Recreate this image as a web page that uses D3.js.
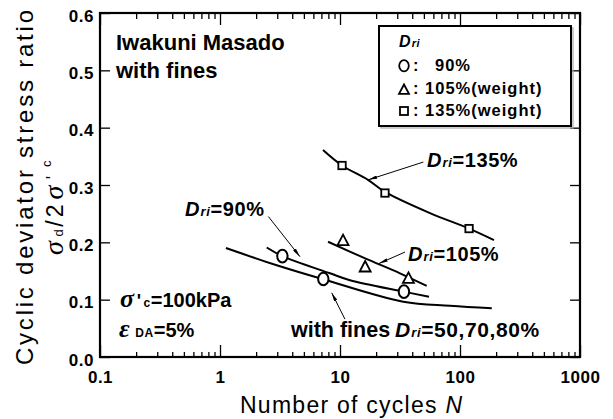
<!DOCTYPE html>
<html>
<head>
<meta charset="utf-8">
<title>Iwakuni Masado cyclic strength</title>
<script src="https://d3js.org/d3.v7.min.js"></script>
<style>
  body { margin: 0; background: #fff; }
  svg { display: block; font-family: "Liberation Sans", Arial, sans-serif; }
  .tick text { font-size: 17px; font-weight: bold; fill: #000; letter-spacing: 0.5px; }
  .tick line { stroke: #000; stroke-width: 1.3; }
</style>
</head>
<body>
<svg id="chart" width="613" height="419"></svg>
<script>
// ---- data: [N, sigma_d / 2 sigma'_c] ----
const xTickValues = [0.1, 1, 10, 100, 1000];
const yTickValues = [0, 0.1, 0.2, 0.3, 0.4, 0.5, 0.6];

const points90  = [[3.31, 0.176], [7.26, 0.136], [34.1, 0.114]];   // circles
const points105 = [[10.6, 0.203], [16.2, 0.157], [37.2, 0.137]];   // triangles
const points135 = [[10.4, 0.334], [23.7, 0.286], [119, 0.224]];    // squares

const curve135   = [[7.22, 0.361], [10.4, 0.334], [17.1, 0.309], [23.7, 0.288], [56.2, 0.251], [119, 0.224], [192, 0.204]];
const curve105   = [[7.95, 0.201], [16.2, 0.172], [31.6, 0.146], [52.8, 0.124]];
const curve90    = [[2.45, 0.191], [3.31, 0.176], [8.25, 0.146], [12.1, 0.134], [34.1, 0.114], [55.2, 0.105]];
const curveFines = [[1.12, 0.190], [2.97, 0.160], [7.26, 0.1355], [33.7, 0.0965], [82.5, 0.0895], [184, 0.085]];

// arrows: [from, to] in data space
const arrows = [
  [[49.5, 0.340], [17.2, 0.309]],
  [[2.53, 0.245], [4.64, 0.175]],
  [[34.8, 0.183], [21.1, 0.163]],
  [[11.0, 0.066], [8.53, 0.112]]
];

// ---- layout ----
const L = 100, R = 580, T = 13, B = 357;
const svg = d3.select('#chart');

const x = d3.scaleLog().domain([0.1, 1000]).range([L, R]);
const y = d3.scaleLinear().domain([0, 0.6]).range([B, T]);
const xMinor = x.ticks().filter(d => !xTickValues.includes(d));

svg.append('defs').append('marker')
  .attr('id', 'arrow')
  .attr('viewBox', '0 0 10 4')
  .attr('refX', 10).attr('refY', 2)
  .attr('markerWidth', 9).attr('markerHeight', 3.6)
  .attr('markerUnits', 'userSpaceOnUse')
  .attr('orient', 'auto')
  .append('path').attr('d', 'M0,0L10,2L0,4Z').attr('fill', '#000');

// axes (ticks point inward)
function noDomain(g) { g.select('.domain').remove(); }

svg.append('g').attr('transform', `translate(0,${B})`)
  .call(d3.axisBottom(x).tickValues(xTickValues).tickSize(-12).tickPadding(14)
    .tickFormat(d => d3.format('~g')(d)))
  .call(noDomain);
svg.append('g').attr('transform', `translate(0,${B})`)
  .call(d3.axisBottom(x).tickValues(xMinor).tickSize(-5).tickFormat(''))
  .call(noDomain);
svg.append('g').attr('transform', `translate(0,${T})`)
  .call(d3.axisTop(x).tickValues(xTickValues).tickSize(-12).tickFormat(''))
  .call(noDomain);
svg.append('g').attr('transform', `translate(0,${T})`)
  .call(d3.axisTop(x).tickValues(xMinor).tickSize(-6).tickFormat(''))
  .call(noDomain);
svg.append('g').attr('transform', `translate(${L},0)`)
  .call(d3.axisLeft(y).tickValues(yTickValues).tickSize(-10).tickPadding(6)
    .tickFormat(d3.format('.1f')))
  .call(noDomain)
  .selectAll('text').attr('dy', '0.48em');
svg.append('g').attr('transform', `translate(${R},0)`)
  .call(d3.axisRight(y).tickValues(yTickValues).tickSize(-10).tickFormat(''))
  .call(noDomain);

svg.selectAll('.tick text').attr('font-family', null);
svg.selectAll('g').attr('font-family', null).attr('font-size', null);

svg.append('rect')
  .attr('x', L).attr('y', T).attr('width', R - L).attr('height', B - T)
  .attr('fill', 'none').attr('stroke', '#000').attr('stroke-width', 2.2);

// curves
const line = d3.line().x(d => x(d[0])).y(d => y(d[1])).curve(d3.curveCatmullRom.alpha(0.5));
[curve135, curve105, curve90, curveFines].forEach(c => {
  svg.append('path').attr('d', line(c))
    .attr('fill', 'none').attr('stroke', '#000').attr('stroke-width', 2);
});

// arrows
svg.append('g').selectAll('line').data(arrows).join('line')
  .attr('x1', d => x(d[0][0])).attr('y1', d => y(d[0][1]))
  .attr('x2', d => x(d[1][0])).attr('y2', d => y(d[1][1]))
  .attr('stroke', '#000').attr('stroke-width', 1)
  .attr('marker-end', 'url(#arrow)');

// markers
const triPath = 'M0,-6L5.5,4.5L-5.5,4.5Z';
svg.append('g').selectAll('ellipse').data(points90).join('ellipse')
  .attr('cx', d => x(d[0])).attr('cy', d => y(d[1]))
  .attr('rx', 5.2).attr('ry', 6.3)
  .attr('fill', '#fff').attr('stroke', '#000').attr('stroke-width', 2);
svg.append('g').selectAll('path').data(points105).join('path')
  .attr('transform', d => `translate(${x(d[0])},${y(d[1])})`)
  .attr('d', triPath)
  .attr('fill', '#fff').attr('stroke', '#000').attr('stroke-width', 1.8);
svg.append('g').selectAll('rect').data(points135).join('rect')
  .attr('x', d => x(d[0]) - 3.7).attr('y', d => y(d[1]) - 3.7)
  .attr('width', 7.4).attr('height', 7.4)
  .attr('fill', '#fff').attr('stroke', '#000').attr('stroke-width', 1.8);

// rich text helper: parts = [text, size, {style, weight, family, rise, dx, ls}]
function rich(px, py, parts, rotate) {
  const t = svg.append('text')
    .attr('transform', `translate(${px},${py})` + (rotate ? ' rotate(-90)' : ''))
    .attr('fill', '#000');
  let cur = 0;
  parts.forEach(([s, size, o = {}]) => {
    const rise = o.rise || 0;
    t.append('tspan').text(s)
      .attr('dy', cur - rise)
      .attr('dx', o.dx || 0)
      .attr('font-size', size)
      .attr('font-weight', o.weight || 'bold')
      .attr('font-style', o.style || 'normal')
      .attr('font-family', o.family || null)
      .attr('letter-spacing', o.ls != null ? o.ls : 0.6);
    cur = rise;
  });
  return t;
}
const IT = { style: 'italic' };
const serif = '"Liberation Serif", "DejaVu Serif", serif';

function dri(px, py, rest, size) {
  rich(px, py, [['D', size, IT], ['ri', 13, { style: 'italic', dx: 0.5 }], [rest, size]]);
}

rich(116, 50, [['Iwakuni Masado', 22, { ls: 0 }]]);
rich(116, 78, [['with fines', 22, { ls: 0 }]]);

dri(427, 167, '=135%', 20);
dri(185, 216, '=90%', 20);
dri(408, 261, '=105%', 20);
rich(291, 337, [['with fines', 21.5, { ls: 0 }]]);
dri(395, 337, '=50,70,80%', 21);

rich(120, 307, [['σ', 26, { family: serif, style: 'italic' }], ["'", 18, { dx: 2 }], ['c', 12, { dx: 2 }], ['=100kPa', 20, { ls: 0 }]]);
rich(119, 337, [['ε', 26, { family: serif, style: 'italic' }], ['DA', 12, { dx: 5 }], ['=5%', 20, { ls: 0 }]]);

// legend
svg.append('rect').attr('x', 381).attr('y', 28).attr('width', 192).attr('height', 100)
  .attr('fill', 'none').attr('stroke', '#aaa').attr('stroke-width', 1.2);
svg.append('rect').attr('x', 379).attr('y', 26).attr('width', 192).attr('height', 100)
  .attr('fill', '#fff').attr('stroke', '#000').attr('stroke-width', 2);
rich(399, 46.5, [['D', 16, IT], ['ri', 11, { style: 'italic', dx: 0.5 }]]);
svg.append('ellipse').attr('cx', 404).attr('cy', 65.8).attr('rx', 4.8).attr('ry', 5.6)
  .attr('fill', '#fff').attr('stroke', '#000').attr('stroke-width', 1.8);
svg.append('path').attr('transform', 'translate(404,89.5)').attr('d', 'M0,-5L5,4.3L-5,4.3Z')
  .attr('fill', '#fff').attr('stroke', '#000').attr('stroke-width', 1.8);
svg.append('rect').attr('x', 400).attr('y', 107).attr('width', 8).attr('height', 8)
  .attr('fill', '#fff').attr('stroke', '#000').attr('stroke-width', 1.8);
rich(413, 70.7, [[':', 16.5, { ls: 1 }]]);
rich(435, 70.7, [['90%', 16.5, { ls: 1 }]]);
rich(413, 94, [[': 105%(weight)', 16.5, { ls: 1 }]]);
rich(413, 116, [[': 135%(weight)', 16.5, { ls: 1 }]]);

// axis titles
svg.append('text')
  .attr('transform', 'translate(33,365) rotate(-90)')
  .attr('font-size', 24).attr('textLength', 355).attr('lengthAdjust', 'spacing')
  .text('Cyclic deviator stress ratio');
rich(63, 255, [
  ['σ', 28, { family: serif, style: 'italic', weight: 'normal' }],
  ['d', 13, { weight: 'normal', dx: 4 }],
  ['/2', 23, { weight: 'normal', dx: 2, ls: 3 }],
  ['σ', 28, { family: serif, style: 'italic', weight: 'normal', dx: 2 }],
  ["'", 18, { weight: 'normal', dx: 6, rise: 4 }],
  ['c', 13, { weight: 'normal', dx: 8, rise: 12 }]
], true);

const xt = svg.append('text').attr('x', 240).attr('y', 413)
  .attr('font-size', 23).attr('textLength', 222).attr('lengthAdjust', 'spacing');
xt.append('tspan').text('Number of cycles  ');
xt.append('tspan').attr('font-style', 'italic').text('N');
</script>
</body>
</html>
